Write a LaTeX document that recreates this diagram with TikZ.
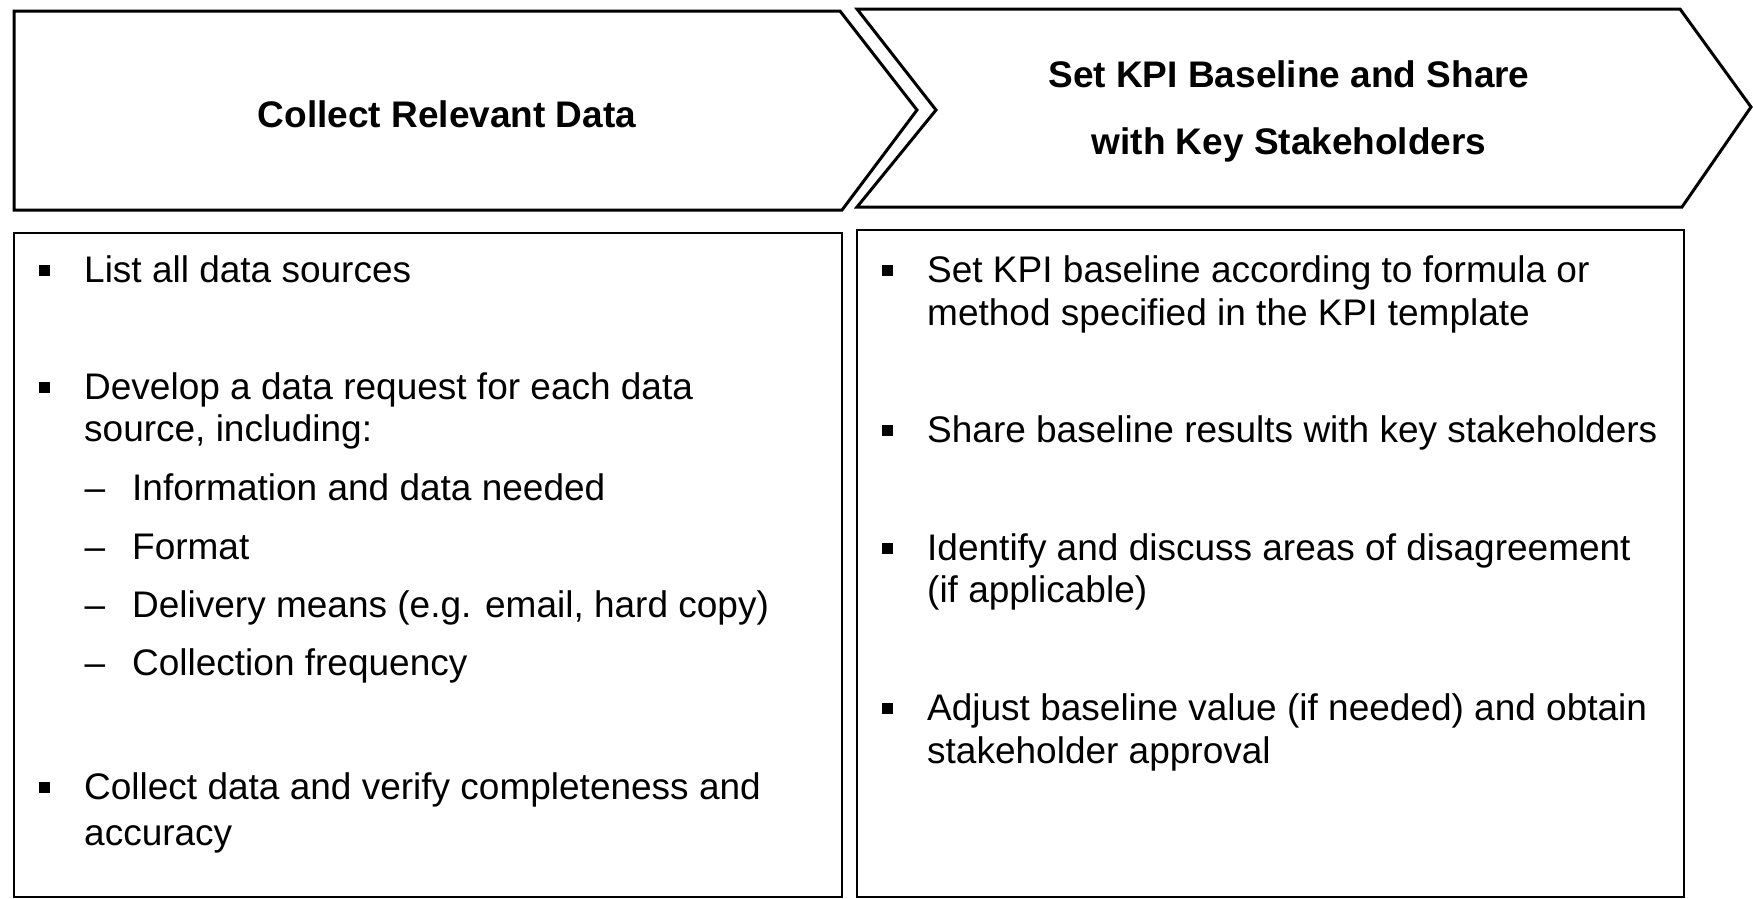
\documentclass[tikz,border=0pt]{standalone}
\usepackage{fontspec}
\setmainfont{Liberation Sans}
\tikzset{
	chevron/.style={draw=black, line width=3pt, line join=miter},
	textbox/.style={draw=black, line width=1.8pt},
	head/.style={font=\bfseries\fontsize{37}{67}\selectfont, align=center, inner sep=0pt},
	item/.style={anchor=base west, inner sep=0pt, font=\fontsize{37}{42}\selectfont},
}
\newcommand{\bul}{\llap{\raisebox{6pt}{\rule{11pt}{11pt}}\hspace{34pt}}}
\newcommand{\subdash}{\llap{\textendash\hspace{27pt}}}

\begin{document}
\begin{tikzpicture}[x=1pt,y=-1pt]
	\useasboundingbox (0,0) rectangle (1753,898);
	% chevrons
	\draw[chevron] (14,11) -- (840,11) -- (917,110) -- (842,210) -- (14,210) -- cycle;
	\draw[chevron] (857,9) -- (1680,9) -- (1751,107) -- (1682,207) -- (857,207) -- (936,110) -- cycle;
	\node[head] (collect) at (447,114) {Collect Relevant Data};
	\node[head] (baseline) at (1289,111) {Set KPI Baseline and Share\\with Key Stakeholders};
	% text boxes
	\draw[textbox] (14,233) rectangle (842,897);
	\draw[textbox] (857,230) rectangle (1684,897);
	% left column
	\node[item] (list) at (84,282) {\bul List all data sources};
	\node[item] (develop) at (84,399) {\bul Develop a data request for each data};
	\node[item] (develop2) at (84,441) {source, including:};
	\foreach \t/\y [count=\i] in {Information and data needed/500, Format/559,
		{Delivery means (e.g. email, hard copy)}/617, Collection frequency/675}
		\node[item] (sub\i) at (132,\y) {\subdash\t};
	\node[item] (verify) at (84,799) {\bul Collect data and verify completeness and};
	\node[item] (verify2) at (84,845) {accuracy};
	% right column
	\node[item] (setkpi) at (927,282) {\bul Set KPI baseline according to formula or};
	\node[item] (setkpi2) at (927,325) {method specified in the KPI template};
	\node[item] (share) at (927,442) {\bul Share baseline results with key stakeholders};
	\node[item] (identify) at (927,560) {\bul Identify and discuss areas of disagreement};
	\node[item] (identify2) at (927,602) {(if applicable)};
	\node[item] (adjust) at (927,720) {\bul Adjust baseline value (if needed) and obtain};
	\node[item] (adjust2) at (927,763) {stakeholder approval};
\end{tikzpicture}
\end{document}
